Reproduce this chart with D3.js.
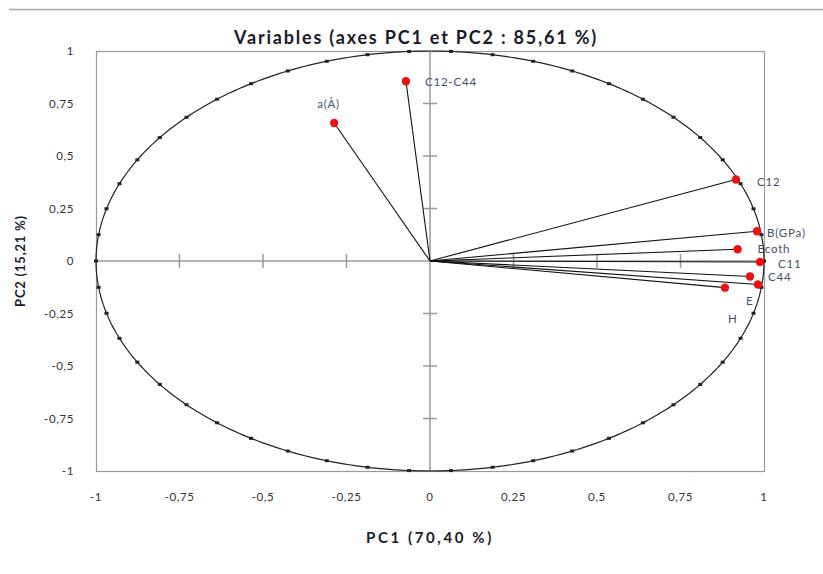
<!DOCTYPE html>
<html>
<head>
<meta charset="utf-8">
<script src="https://cdn.jsdelivr.net/npm/d3@7"></script>
<style>
  html, body { margin: 0; padding: 0; background: #fff; }
  svg { display: block; font-family: "Lato", "Open Sans", sans-serif; }
</style>
</head>
<body>
<svg id="chart" width="823" height="574"></svg>
<script>
// Correlation circle: variables projected on PC1 / PC2
const varNames = ["C12", "B(GPa)", "Ecoth", "C11", "C44", "E", "H", "a(Å)", "C12-C44"];
const pc1Coords = [0.916, 0.979, 0.921, 0.988, 0.958, 0.982, 0.883, -0.287, -0.072];
const pc2Coords = [0.388, 0.142, 0.056, -0.005, -0.074, -0.112, -0.127, 0.657, 0.856];
// label anchor offsets (in pixels, relative to point)
const labelDx = [21, 10, 20, 18, 18, -12, 3, -17, 19];
const labelDy = [2, 2, 0, 2, 0, 16, 31, -19, 1];

const tickValues = [-1, -0.75, -0.5, -0.25, 0, 0.25, 0.5, 0.75, 1];
const tickLabels = ["-1", "-0,75", "-0,5", "-0,25", "0", "0,25", "0,5", "0,75", "1"];

const chartTitle = "Variables (axes PC1 et PC2 : 85,61 %)";
const xTitle = "PC1 (70,40 %)";
const yTitle = "PC2 (15,21 %)";

const svg = d3.select("#chart");
const plot = { left: 96, right: 764, top: 51, bottom: 471 };

const x = d3.scaleLinear().domain([-1, 1]).range([plot.left, plot.right]);
const y = d3.scaleLinear().domain([-1, 1]).range([plot.bottom, plot.top]);

// top border line of the chart area
svg.append("line")
  .attr("x1", 9).attr("x2", 823).attr("y1", 9.5).attr("y2", 9.5)
  .attr("stroke", "#a6a6a6").attr("stroke-width", 1.5);

// plot frame
svg.append("rect")
  .attr("x", plot.left + 0.5).attr("y", plot.top + 0.5)
  .attr("width", plot.right - plot.left).attr("height", plot.bottom - plot.top)
  .attr("fill", "none").attr("stroke", "#9a9a9a").attr("stroke-width", 1.2);

// axes through origin
svg.append("line")
  .attr("x1", x(0)).attr("x2", x(0)).attr("y1", plot.top).attr("y2", plot.bottom)
  .attr("stroke", "#9a9a9a").attr("stroke-width", 1.5);
svg.append("line")
  .attr("x1", plot.left).attr("x2", plot.right).attr("y1", y(0)).attr("y2", y(0))
  .attr("stroke", "#9a9a9a").attr("stroke-width", 1.5);

// tick marks crossing the centre axes
const innerTicks = tickValues.filter(v => v !== 0 && Math.abs(v) !== 1);
svg.selectAll(".ytick").data(innerTicks).join("line")
  .attr("x1", x(0) - 7).attr("x2", x(0) + 7)
  .attr("y1", d => y(d)).attr("y2", d => y(d))
  .attr("stroke", "#9a9a9a").attr("stroke-width", 1.5);
svg.selectAll(".xtick").data(innerTicks).join("line")
  .attr("x1", d => x(d)).attr("x2", d => x(d))
  .attr("y1", y(0) - 7).attr("y2", y(0) + 7)
  .attr("stroke", "#9a9a9a").attr("stroke-width", 1.5);

// tick labels
svg.selectAll(".xlab").data(tickValues).join("text")
  .attr("x", d => x(d)).attr("y", 501)
  .attr("text-anchor", "middle")
  .attr("font-size", 11.5).attr("letter-spacing", 0.6).attr("fill", "#333")
  .text((d, i) => tickLabels[i]);
svg.selectAll(".ylab").data(tickValues).join("text")
  .attr("x", 74).attr("y", d => y(d) + 4)
  .attr("text-anchor", "end")
  .attr("font-size", 11.5).attr("letter-spacing", 0.6).attr("fill", "#333")
  .text((d, i) => tickLabels[i]);

// unit circle with small markers
const angles = d3.range(0, 361, 1);
const circleLine = d3.line().x(a => x(Math.cos(a * Math.PI / 180))).y(a => y(Math.sin(a * Math.PI / 180)));
svg.append("path")
  .attr("d", circleLine(angles))
  .attr("fill", "none").attr("stroke", "#222").attr("stroke-width", 1.2);
const markerAngles = d3.range(0, 360, 7.2);
svg.selectAll(".cm").data(markerAngles).join("rect")
  .attr("x", a => x(Math.cos(a * Math.PI / 180)) - 2)
  .attr("y", a => y(Math.sin(a * Math.PI / 180)) - 1.5)
  .attr("width", 4).attr("height", 3)
  .attr("fill", "#222");

// vectors from origin
const idx = d3.range(varNames.length);
svg.selectAll(".vec").data(idx).join("line")
  .attr("x1", x(0)).attr("y1", y(0))
  .attr("x2", i => x(pc1Coords[i])).attr("y2", i => y(pc2Coords[i]))
  .attr("stroke", "#111").attr("stroke-width", 1.1);

// points
svg.selectAll(".pt").data(idx).join("circle")
  .attr("cx", i => x(pc1Coords[i])).attr("cy", i => y(pc2Coords[i]))
  .attr("r", 4.2).attr("fill", "#ee1111");

// variable labels
svg.selectAll(".vl").data(idx).join("text")
  .attr("x", i => x(pc1Coords[i]) + labelDx[i])
  .attr("y", i => y(pc2Coords[i]) + labelDy[i] + 4)
  .attr("font-size", 11.5).attr("letter-spacing", 0.8).attr("fill", "#44506a")
  .text(i => varNames[i]);

// titles
svg.append("text")
  .attr("x", 416).attr("y", 44)
  .attr("text-anchor", "middle")
  .attr("font-size", 18).attr("letter-spacing", 1.8)
  .attr("font-weight", "bold").attr("fill", "#1a1a2a")
  .text(chartTitle);
svg.append("text")
  .attr("x", 430).attr("y", 543)
  .attr("text-anchor", "middle")
  .attr("font-size", 15).attr("letter-spacing", 2.6)
  .attr("font-weight", "bold").attr("fill", "#1a1a2a")
  .text(xTitle);
svg.append("text")
  .attr("transform", "translate(25,261) rotate(-90)")
  .attr("text-anchor", "middle")
  .attr("font-size", 13).attr("letter-spacing", 0.8)
  .attr("font-weight", "bold").attr("fill", "#1a1a2a")
  .text(yTitle);
</script>
</body>
</html>
